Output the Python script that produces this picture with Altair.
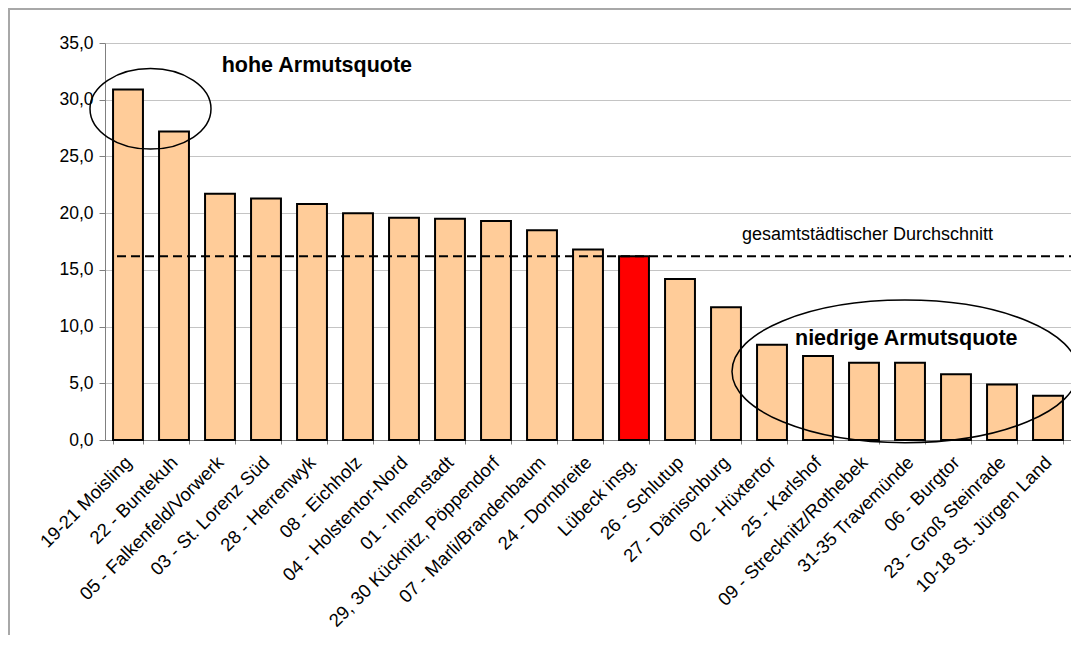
import altair as alt
import pandas as pd

# ---- data ----
categories = [
    "19-21 Moisling", "22 - Buntekuh", "05 - Falkenfeld/Vorwerk", "03 - St. Lorenz Süd",
    "28 - Herrenwyk", "08 - Eichholz", "04 - Holstentor-Nord", "01 - Innenstadt",
    "29, 30 Kücknitz, Pöppendorf", "07 - Marli/Brandenbaum", "24 - Dornbreite",
    "Lübeck insg.", "26 - Schlutup", "27 - Dänischburg", "02 - Hüxtertor",
    "25 - Karlshof", "09 - Strecknitz/Rothebek", "31-35 Travemünde", "06 - Burgtor",
    "23 - Groß Steinrade", "10-18 St. Jürgen Land",
]
values = [30.9, 27.2, 21.7, 21.3, 20.8, 20.0, 19.6, 19.5, 19.3, 18.5, 16.8,
          16.2, 14.2, 11.7, 8.4, 7.4, 6.8, 6.8, 5.8, 4.9, 3.9]
highlight = "Lübeck insg."
average = 16.2
y_ticks = [0, 5, 10, 15, 20, 25, 30, 35]

text_high = "hohe Armutsquote"
text_low = "niedrige Armutsquote"
text_avg = "gesamtstädtischer Durchschnitt"

FONT = "Liberation Sans"
W, H = 966, 397

df = pd.DataFrame({"Stadtteil": categories, "Quote": values})
df["Gruppe"] = ["ges" if c == highlight else "st" for c in categories]
one = pd.DataFrame({"k": [0]})


def ellipse_path(ratio):
    k = 0.5523
    r = ratio
    return (f"M 1 0 C 1 {r*k:.4f} {k} {r:.4f} 0 {r:.4f} "
            f"C {-k} {r:.4f} -1 {r*k:.4f} -1 0 "
            f"C -1 {-r*k:.4f} {-k} {-r:.4f} 0 {-r:.4f} "
            f"C {k} {-r:.4f} 1 {-r*k:.4f} 1 0 Z")


x_enc = alt.X(
    "Stadtteil:N", sort=categories, title=None,
    scale=alt.Scale(paddingInner=0.35, paddingOuter=0.175),
    axis=alt.Axis(labelAngle=-45, labelAlign="right", labelBaseline="middle",
                  labelPadding=15, tickSize=4, tickBand="extent",
                  labelFontSize=18.5, labelFont=FONT, labelColor="black",
                  domainColor="#808080", tickColor="#808080",
                  labelLimit=0, labelOverlap=False, grid=False),
)
y_enc = alt.Y(
    "Quote:Q", title=None,
    scale=alt.Scale(domain=[0, 35], nice=False),
    axis=alt.Axis(values=y_ticks,
                  labelExpr="replace(format(datum.value, '.1f'), '.', ',')",
                  labelFontSize=17.5, labelFont=FONT, labelColor="black",
                  labelPadding=6, tickSize=6, tickColor="#808080",
                  domainColor="#808080", grid=True, gridColor="#c4c4c4"),
)

frame = alt.Chart(one).mark_rect(filled=False, stroke="#a8a8a8", strokeWidth=2).encode(
    x=alt.value(-96), x2=alt.value(W + 300), y=alt.value(-34), y2=alt.value(H + 500)
)

bars = alt.Chart(df).mark_bar(stroke="black", strokeWidth=2).encode(
    x=x_enc,
    y=y_enc,
    fill=alt.Fill("Gruppe:N", scale=alt.Scale(domain=["st", "ges"], range=["#FFCC99", "#FF0000"]), legend=None),
)

avg_rule = alt.Chart(one).mark_rule(color="black", strokeWidth=1.8, strokeDash=[9, 5]).encode(
    y=alt.datum(average), x=alt.value(12), x2=alt.value(W)
)

ell1 = alt.Chart(one).mark_point(shape=ellipse_path(40.3 / 60.5), filled=False,
                                 stroke="black", strokeWidth=1.5, opacity=1).encode(
    x=alt.value(45.5), y=alt.datum(29.2), size=alt.value(121 ** 2)
)
ell2 = alt.Chart(one).mark_point(shape=ellipse_path(71.3 / 173), filled=False,
                                 stroke="black", strokeWidth=1.5, opacity=1).encode(
    x=alt.value(800), y=alt.datum(6.05), size=alt.value(346 ** 2)
)

t_high = alt.Chart(one).mark_text(text=text_high, align="left", baseline="alphabetic",
                                  font=FONT, fontSize=21.5, fontWeight="bold", color="black").encode(
    x=alt.value(116.7), y=alt.datum(32.45)
)
t_low = alt.Chart(one).mark_text(text=text_low, align="left", baseline="alphabetic",
                                 font=FONT, fontSize=21.5, fontWeight="bold", color="black").encode(
    x=alt.value(690), y=alt.datum(8.37)
)
t_avg = alt.Chart(one).mark_text(text=text_avg, align="left", baseline="alphabetic",
                                 font=FONT, fontSize=18, color="black").encode(
    x=alt.value(637), y=alt.datum(17.6)
)

chart = alt.layer(frame, bars, avg_rule, ell1, ell2, t_high, t_low, t_avg).properties(
    width=W, height=H,
    autosize=alt.AutoSizeParams(type="none"),
    padding={"left": 97, "top": 35, "right": 0, "bottom": 195},
    background="white",
).configure_view(stroke=None)

chart.save("out.html", embed_options={"renderer": "svg", "actions": False})
